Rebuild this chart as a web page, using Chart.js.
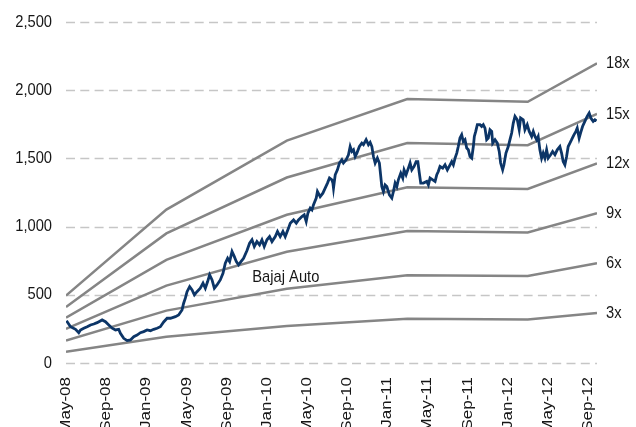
<!DOCTYPE html>
<html>
<head>
<meta charset="utf-8">
<script src="https://cdn.jsdelivr.net/npm/chart.js@4.4.1/dist/chart.umd.min.js"></script>
<style>
  body { margin: 0; background: #fff; }
  canvas { display: block; }
</style>
</head>
<body>
<canvas id="myChart" width="636" height="427"></canvas>
<script>
// months counted from May-08 (0) on the x axis
const tickLabels = ["May-08", "Sep-08", "Jan-09", "May-09", "Sep-09", "Jan-10", "May-10",
  "Sep-10", "Jan-11", "May-11", "Sep-11", "Jan-12", "May-12", "Sep-12"];
const tickMonths = [0, 4, 8, 12, 16, 20, 24, 28, 32, 36, 40, 44, 48, 52];
const yTicks = [0, 500, 1000, 1500, 2000, 2500];

const priceMonths = [0.05, 0.45, 0.95, 1.27, 1.44, 1.77, 2.11, 2.44, 2.77, 3.10, 3.60, 3.93, 4.26, 4.60, 4.93,
  5.25, 5.42, 5.75, 6.09, 6.42, 6.75, 7.08, 7.41, 7.74, 8.08, 8.41, 8.74, 9.07, 9.40, 9.73,
  10.07, 10.40, 10.90, 11.22, 11.56, 11.72, 11.89, 12.06, 12.32, 12.56, 12.79, 13.05, 13.38, 13.65, 13.88,
  14.11, 14.31, 14.55, 14.78, 15.04, 15.37, 15.64, 15.87, 16.10, 16.30, 16.54, 16.77, 16.97, 17.19, 17.43,
  17.69, 18.03, 18.29, 18.53, 18.76, 19.02, 19.28, 19.52, 19.75, 20.02, 20.28, 20.52, 20.85, 21.07, 21.34,
  21.61, 21.84, 22.17, 22.34, 22.67, 22.94, 23.16, 23.50, 23.73, 23.93, 24.10, 24.33, 24.50, 24.66, 24.93,
  25.05, 25.32, 25.59, 25.82, 26.05, 26.25, 26.49, 26.59, 26.65, 26.82, 27.04, 27.24, 27.48, 27.64, 27.91,
  28.14, 28.31, 28.48, 28.64, 28.81, 28.98, 29.23, 29.47, 29.63, 29.90, 30.13, 30.30, 30.47, 30.63, 30.80,
  31.02, 31.22, 31.36, 31.46, 31.62, 31.79, 31.96, 32.22, 32.46, 32.62, 32.79, 32.96, 33.11, 33.35, 33.55,
  33.68, 33.88, 34.11, 34.28, 34.45, 34.68, 34.88, 35.05, 35.20, 35.34, 35.60, 35.94, 36.10, 36.27, 36.54,
  36.77, 36.94, 37.09, 37.26, 37.53, 37.76, 37.99, 38.26, 38.43, 38.59, 38.76, 38.93, 39.08, 39.25, 39.42,
  39.58, 39.75, 39.92, 40.08, 40.25, 40.42, 40.58, 40.68, 40.82, 40.98, 41.24, 41.41, 41.57, 41.74, 41.91,
  42.07, 42.24, 42.41, 42.51, 42.74, 42.97, 43.16, 43.30, 43.50, 43.63, 43.83, 44.06, 44.23, 44.40, 44.56,
  44.73, 44.96, 45.15, 45.29, 45.55, 45.72, 45.95, 46.15, 46.39, 46.55, 46.72, 46.89, 47.04, 47.21, 47.38,
  47.54, 47.71, 47.88, 48.04, 48.28, 48.48, 48.71, 48.94, 49.20, 49.37, 49.53, 49.70, 49.87, 50.03, 50.20,
  50.37, 50.60, 50.80, 50.93, 51.12, 51.26, 51.46, 51.69, 51.92, 52.12, 52.29, 52.52, 52.69, 52.86];
const priceValues = [310, 266, 247, 222, 242, 255, 266, 279, 286, 296, 316, 303, 279, 255, 242,
  247, 218, 181, 164, 169, 193, 205, 222, 230, 242, 237, 247, 255, 266, 301,
  328, 328, 340, 352, 389, 438, 475, 523, 560, 536, 499, 523, 548, 585, 548,
  597, 646, 609, 548, 572, 609, 658, 732, 768, 743, 817, 780, 743, 719, 743,
  768, 825, 878, 903, 854, 890, 866, 903, 854, 903, 927, 890, 927, 964, 927,
  964, 927, 989, 1025, 1049, 1025, 1049, 1074, 1086, 1037, 1099, 1135, 1123, 1160, 1209,
  1257, 1220, 1245, 1282, 1319, 1356, 1343, 1319, 1282, 1380, 1416, 1466, 1490, 1466, 1490,
  1527, 1587, 1551, 1563, 1514, 1539, 1587, 1612, 1600, 1637, 1600, 1617, 1587, 1514, 1466,
  1502, 1466, 1367, 1294, 1257, 1306, 1294, 1233, 1209, 1257, 1319, 1294, 1343, 1392, 1356,
  1416, 1380, 1429, 1466, 1416, 1441, 1477, 1477, 1392, 1319, 1319, 1331, 1306, 1356, 1343,
  1331, 1380, 1404, 1441, 1429, 1453, 1416, 1453, 1477, 1453, 1502, 1539, 1587, 1649, 1673,
  1624, 1637, 1576, 1563, 1514, 1502, 1587, 1661, 1698, 1747, 1747, 1734, 1747, 1722, 1637,
  1649, 1710, 1698, 1612, 1637, 1612, 1551, 1466, 1416, 1453, 1539, 1587, 1637, 1686, 1759,
  1808, 1783, 1710, 1796, 1783, 1710, 1747, 1698, 1661, 1698, 1661, 1637, 1661, 1563, 1502,
  1539, 1502, 1563, 1502, 1527, 1551, 1527, 1563, 1587, 1539, 1477, 1453, 1514, 1587, 1612,
  1637, 1673, 1698, 1722, 1649, 1686, 1734, 1771, 1808, 1833, 1796, 1771, 1783, 1775];

// P/E bands, knots at each March
const bandMonths = [0, 10, 22, 34, 46, 52.9];
const band3x = [83, 192, 272, 325, 319, 366];
const band6x = [165, 384, 544, 644, 638, 732];
const band9x = [250, 567, 816, 967, 957, 1098];
const band12x = [333, 756, 1087, 1289, 1276, 1463];
const band15x = [410, 950, 1360, 1612, 1597, 1826];
const band18x = [494, 1125, 1630, 1935, 1915, 2197];
const bandNames = ["3x", "6x", "9x", "12x", "15x", "18x"];
const bands = [band3x, band6x, band9x, band12x, band15x, band18x];

const fuente = '17px "Liberation Sans", Arial, sans-serif';
const colorTexto = "#161616";
const estrechar = 0.865; // the original picture is squeezed sideways

const toPoints = (xs, ys) => xs.map((x, i) => ({ x: x, y: ys[i] }));

const texto = (ctx, str, x, y, align, rotar) => {
  ctx.save();
  ctx.translate(x, y);
  ctx.scale(estrechar, 1);
  if (rotar) ctx.rotate(-Math.PI / 2);
  ctx.textAlign = align;
  ctx.fillText(str, 0, 0);
  ctx.restore();
};

// dashed horizontal grid
const rejilla = {
  id: "rejilla",
  beforeDatasetsDraw(chart) {
    const { ctx, chartArea, scales } = chart;
    ctx.save();
    ctx.strokeStyle = "#c6c6c6";
    ctx.lineWidth = 1.3;
    ctx.setLineDash([9, 5.3]);
    yTicks.forEach((v) => {
      const y = Math.round(scales.y.getPixelForValue(v)) + 0.5;
      ctx.beginPath();
      ctx.moveTo(chartArea.left, y);
      ctx.lineTo(chartArea.right, y);
      ctx.stroke();
    });
    ctx.restore();
  },
};

const etiquetas = {
  id: "etiquetas",
  afterDatasetsDraw(chart) {
    const { ctx, chartArea, scales } = chart;
    ctx.save();
    ctx.font = fuente;
    ctx.fillStyle = colorTexto;
    ctx.textBaseline = "middle";
    // y axis
    yTicks.forEach((v) => {
      texto(ctx, v.toLocaleString("en-US"), chartArea.left - 14, scales.y.getPixelForValue(v), "right", false);
    });
    // x axis, rotated
    tickMonths.forEach((m, i) => {
      texto(ctx, tickLabels[i], scales.x.getPixelForValue(m), chartArea.bottom + 14, "right", true);
    });
    // band names at the right end
    bands.forEach((b, i) => {
      const y = scales.y.getPixelForValue(b[b.length - 1]);
      texto(ctx, bandNames[i], chartArea.right + 9, y, "left", false);
    });
    texto(ctx, "Bajaj Auto", scales.x.getPixelForValue(21.9), scales.y.getPixelForValue(631), "center", false);
    ctx.restore();
  },
};

const datasets = [
  {
    label: "Bajaj Auto",
    data: toPoints(priceMonths, priceValues),
    borderColor: "#0c3567",
    borderWidth: 2.8,
    pointRadius: 0,
    tension: 0,
  },
];
bands.forEach((b, i) => {
  datasets.push({
    label: bandNames[i],
    data: toPoints(bandMonths, b),
    borderColor: "#858585",
    borderWidth: 2.5,
    pointRadius: 0,
    tension: 0,
  });
});

const myChart = new Chart(document.getElementById("myChart"), {
  type: "line",
  data: { datasets: datasets },
  plugins: [rejilla, etiquetas],
  options: {
    responsive: false,
    animation: false,
    layout: { padding: { top: 22, right: 39, left: 0, bottom: 0 } },
    plugins: { legend: { display: false }, tooltip: { enabled: false } },
    scales: {
      x: {
        type: "linear",
        min: 0,
        max: 52.9,
        afterBuildTicks: (scale) => {
          scale.ticks = tickMonths.map((v) => ({ value: v }));
        },
        afterFit: (scale) => {
          scale.height = 64;
        },
        grid: { display: false, drawTicks: false },
        border: { display: false },
        ticks: { display: false },
      },
      y: {
        min: 0,
        max: 2500,
        afterFit: (scale) => {
          scale.width = 66;
        },
        grid: { display: false, drawTicks: false },
        border: { display: false },
        ticks: { display: false, stepSize: 500 },
      },
    },
  },
});
</script>
</body>
</html>
